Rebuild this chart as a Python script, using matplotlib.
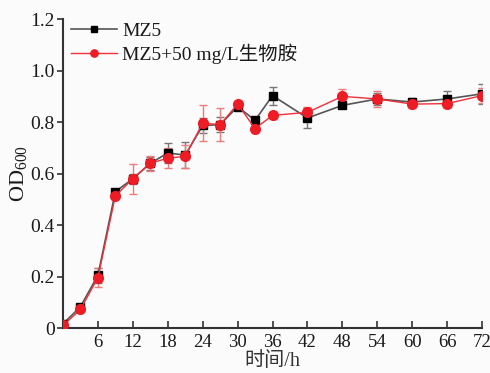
import matplotlib
matplotlib.use("Agg")
import matplotlib.pyplot as plt
from matplotlib.ticker import FuncFormatter

plt.rcParams['font.family'] = ['Liberation Serif', 'Noto Sans CJK SC']
plt.rcParams['mathtext.default'] = 'regular'

time_h = [0, 3, 6, 9, 12, 15, 18, 21, 24, 27, 30, 33, 36, 42, 48, 54, 60, 66, 72]
mz5 = [0.016, 0.083, 0.205, 0.530, 0.580, 0.640, 0.680, 0.672, 0.787, 0.790, 0.860,
       0.807, 0.903, 0.816, 0.865, 0.890, 0.878, 0.890, 0.910]
mz5_err = [0.005, 0.008, 0.030, 0.012, 0.020, 0.025, 0.040, 0.050, 0.030, 0.030, 0.012,
           0.012, 0.035, 0.040, 0.010, 0.025, 0.015, 0.030, 0.040]
mz5_bio = [0.010, 0.072, 0.196, 0.514, 0.580, 0.640, 0.660, 0.667, 0.796, 0.790, 0.870,
           0.775, 0.826, 0.838, 0.900, 0.890, 0.870, 0.872, 0.903]
mz5_bio_err = [0.005, 0.008, 0.038, 0.012, 0.058, 0.030, 0.040, 0.045, 0.070, 0.065, 0.012,
               0.010, 0.012, 0.020, 0.030, 0.030, 0.015, 0.015, 0.030]

labels = ['MZ5', 'MZ5+50 mg/L生物胺']
xticks = [6, 12, 18, 24, 30, 36, 42, 48, 54, 60, 66, 72]
yticks = [0, 0.2, 0.4, 0.6, 0.8, 1.0, 1.2]

fig = plt.figure(figsize=(4.9, 3.73), dpi=100, facecolor='#fbfbfb')
ax = fig.add_axes([0.1286, 0.1206, 0.8551, 0.828])
ax.set_facecolor('#fbfbfb')

ax.errorbar(time_h, mz5, yerr=mz5_err, fmt='none', ecolor='#777777', capsize=3,
            elinewidth=1, capthick=1, zorder=2)
ax.errorbar(time_h, mz5_bio, yerr=mz5_bio_err, fmt='none', ecolor='#ee7a7a', capsize=3,
            elinewidth=1, capthick=1, zorder=2)
h1, = ax.plot(time_h, mz5, color='#555555', lw=1.2, marker='s', ms=5.8, mfc='black',
              mec='black', label=labels[0], zorder=3)
h2, = ax.plot(time_h, mz5_bio, color='#f0303a', lw=1.0, marker='o', ms=7, mfc='#ee1c25',
              mec='#ee1c25', label=labels[1], zorder=4)

ax.set_xlim(0, 72)
ax.set_ylim(0, 1.2)
ax.set_xticks(xticks)
ax.set_yticks(yticks)
ax.yaxis.set_major_formatter(FuncFormatter(lambda v, p: '0' if v == 0 else f'{v:.1f}'))

for s in ['top', 'right']:
    ax.spines[s].set_visible(False)
for s in ['left', 'bottom']:
    ax.spines[s].set_color('#333333')
    ax.spines[s].set_linewidth(1.5)

ax.tick_params(axis='x', direction='in', length=5, width=1.2, color='#333333',
               labelsize=13.5, labelcolor='#1a1a1a', pad=4)
ax.tick_params(axis='y', direction='out', length=4, width=1.2, color='#333333',
               labelsize=14, labelcolor='#1a1a1a', pad=2)

ax.set_xlabel('时间/h', fontsize=14.5, color='#333333', labelpad=1)
ax.set_ylabel('OD$_{600}$', fontsize=16, color='#1a1a1a', labelpad=1)

leg = ax.legend(handles=[h1, h2], loc='upper left', bbox_to_anchor=(-0.014, 1.035),
                frameon=False, fontsize=14, handlelength=2.4, handletextpad=0.25,
                labelspacing=0.2, borderaxespad=0.3, markerscale=0.75)
for t in leg.get_texts():
    t.set_color('#1a1a1a')

fig.savefig('out.png', dpi=100, facecolor=fig.get_facecolor())
